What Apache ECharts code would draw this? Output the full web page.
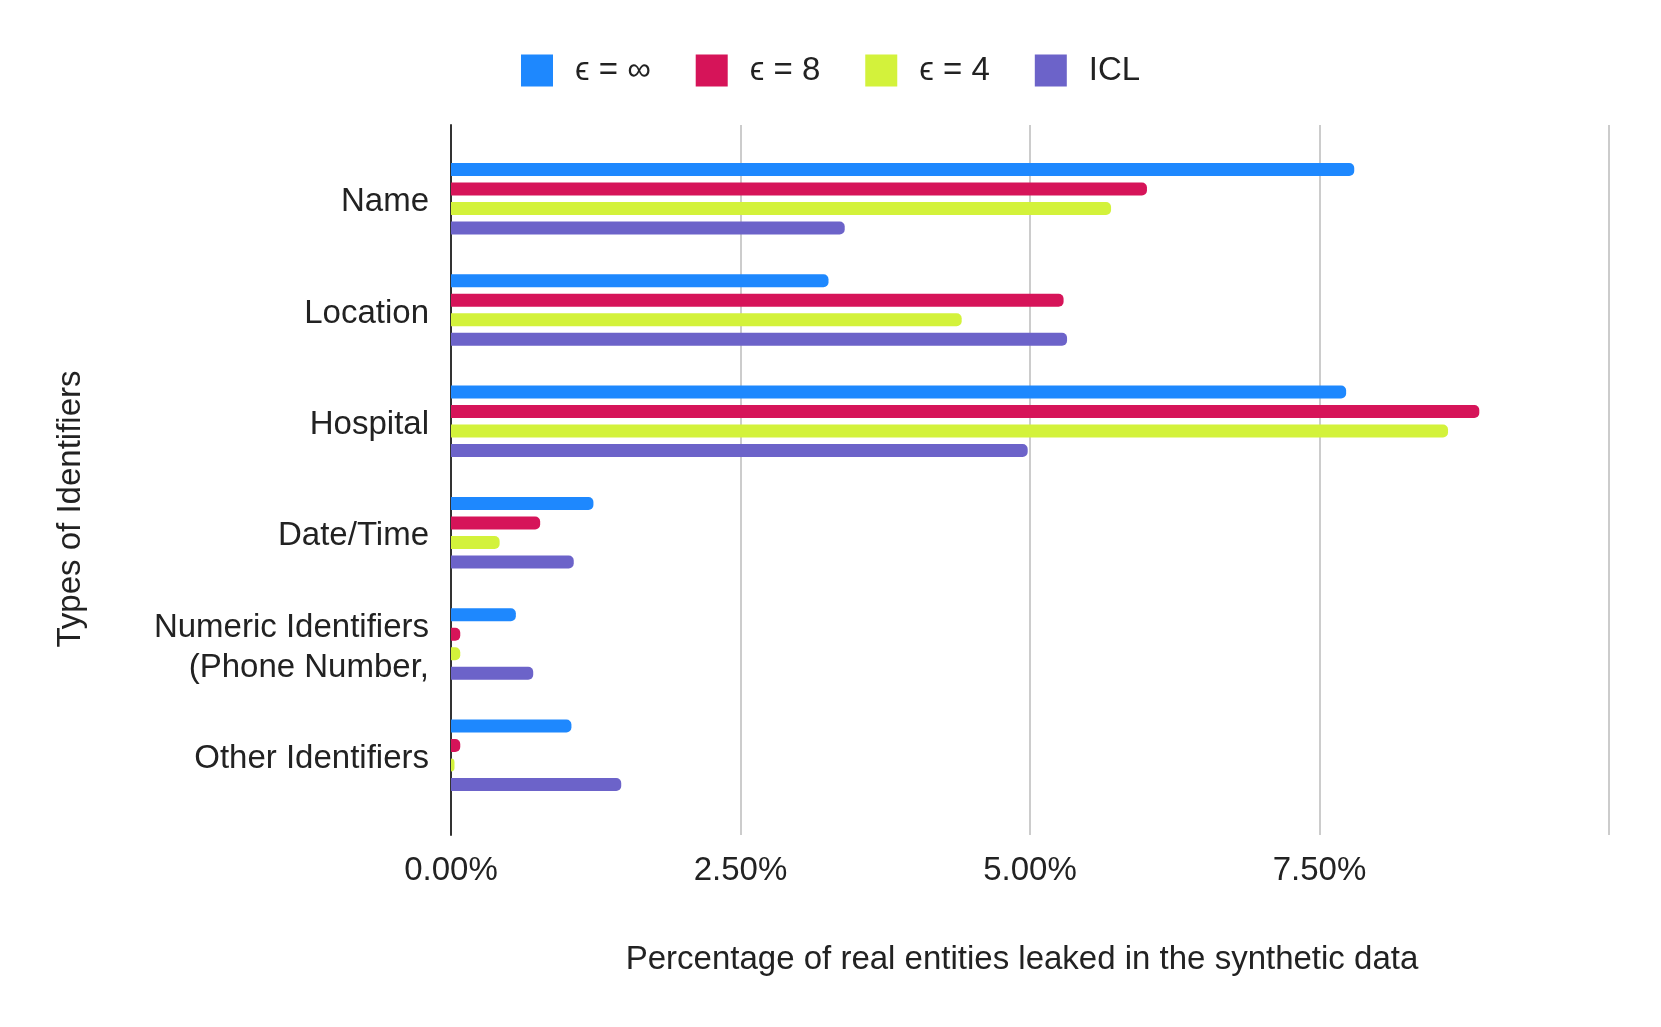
<!DOCTYPE html>
<html>
<head>
<meta charset="utf-8">
<script src="https://cdn.jsdelivr.net/npm/echarts@6/dist/echarts.min.js"></script>
<style>
html,body{margin:0;padding:0;background:#fff;}
#chart{width:1661px;height:1027px;}
</style>
</head>
<body>
<div id="chart"></div>
<script>
const categories = ['Name', 'Location', 'Hospital', 'Date/Time', 'Numeric Identifiers\n(Phone Number,', 'Other Identifiers'];
const seriesNames = ['ϵ = ∞', 'ϵ = 8', 'ϵ = 4', 'ICL'];
const epsInf = [7.80, 3.26, 7.73, 1.23, 0.56, 1.04];
const eps8   = [6.01, 5.29, 8.88, 0.77, 0.08, 0.08];
const eps4   = [5.70, 4.41, 8.61, 0.42, 0.08, 0.03];
const icl    = [3.40, 5.32, 4.98, 1.06, 0.71, 1.47];
const xTicks = [0, 2.5, 5, 7.5, 10];
const colors = ['#1E88FE', '#D61459', '#D3F23B', '#6C63C9'];

const FONT = '"Liberation Sans", Arial, "DejaVu Sans", sans-serif';
const chart = echarts.init(document.getElementById('chart'));
const values = [epsInf, eps8, eps4, icl];

const option = {
  backgroundColor: '#fff',
  animation: false,
  color: colors,
  textStyle: { fontFamily: FONT, color: '#222' },
  legend: {
    left: 516, top: 49,
    icon: 'rect',
    itemWidth: 32, itemHeight: 32, itemGap: 45,
    textStyle: { fontSize: 33, color: '#222', fontFamily: FONT, padding: [0, 0, 0, 17] },
    data: seriesNames
  },
  graphic: [{
    type: 'text',
    x: 71, y: 509,
    rotation: Math.PI / 2,
    style: {
      text: 'Types of Identifiers',
      fontSize: 33, fontFamily: FONT, fill: '#222',
      align: 'center', verticalAlign: 'middle'
    }
  }],
  grid: [
    { left: 451, top: 125, width: 1158, height: 710 },
    { left: 451, top: 143, width: 1158, height: 668 }
  ],
  xAxis: [
    {
      gridIndex: 0, type: 'value', min: xTicks[0], max: xTicks[xTicks.length - 1], interval: 2.5,
      axisLine: { show: false }, axisTick: { show: false },
      splitLine: { show: true, lineStyle: { color: '#cccccc', width: 2 } },
      axisLabel: {
        fontSize: 33, color: '#222', fontFamily: FONT, margin: 19,
        formatter: v => (v === 10 ? '' : v.toFixed(2) + '%')
      },
      name: 'Percentage of real entities leaked in the synthetic data',
      nameLocation: 'middle', nameGap: 108,
      nameTextStyle: { fontSize: 33, color: '#222', fontFamily: FONT, padding: [0, 16, 0, 0] }
    },
    {
      gridIndex: 1, type: 'value', min: 0, max: 10, show: false
    }
  ],
  yAxis: [
    {
      gridIndex: 0, type: 'value', min: 0, max: 1,
      axisLine: { show: true, lineStyle: { color: '#333', width: 2 } },
      axisTick: { show: false }, axisLabel: { show: false }, splitLine: { show: false }
    },
    {
      gridIndex: 1, type: 'category', inverse: true, data: categories,
      axisLine: { show: false }, axisTick: { show: false },
      axisLabel: {
        fontSize: 33, color: '#222', fontFamily: FONT, margin: 22, align: 'right',
        formatter: v => v.split('\n').map(s => '{t|' + s + '}').join('\n'),
        rich: { t: { fontSize: 33, fontFamily: FONT, color: '#222', lineHeight: 40, padding: [7, 0, 0, 0] } }
      }
    }
  ],
  series: seriesNames.map((n, i) => ({
    name: n, type: 'bar', xAxisIndex: 1, yAxisIndex: 1,
    data: values[i],
    barWidth: 13, barGap: '50%',
    itemStyle: { color: colors[i], borderRadius: [0, 5, 5, 0] }
  }))
};
chart.setOption(option);
</script>
</body>
</html>
